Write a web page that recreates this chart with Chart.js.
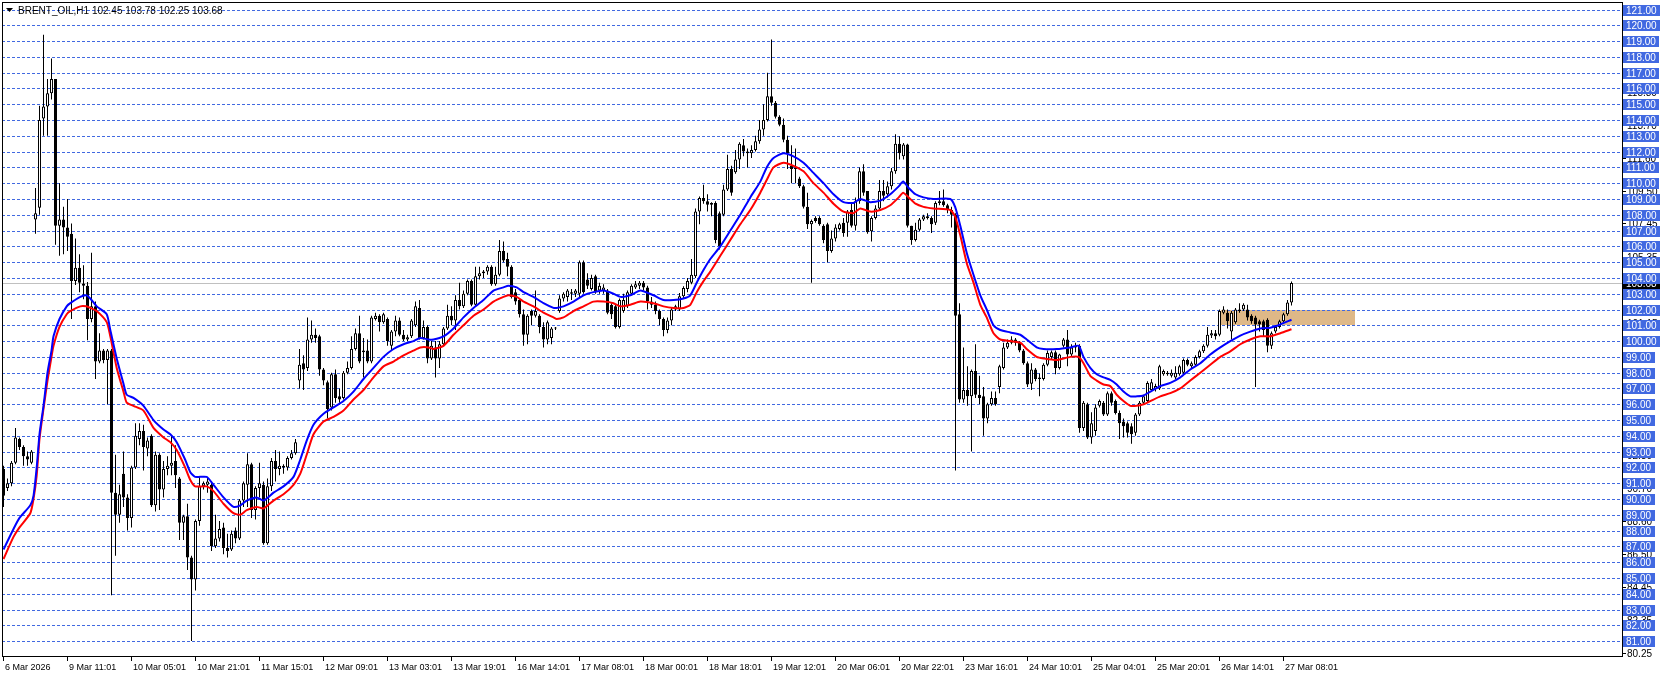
<!DOCTYPE html>
<html>
<head>
<meta charset="utf-8">
<title>BRENT_OIL,H1</title>
<script src="https://cdn.jsdelivr.net/npm/chart.js@4.4.1/dist/chart.umd.min.js"></script>
<style>
  html, body { margin: 0; padding: 0; background: #fff; }
  canvas { display: block; }
</style>
</head>
<body>
<canvas id="chart" width="1662" height="677"></canvas>
<script>
// H1 candles, index 0 = 6 Mar 2026
const opens = [
  91.9, 90.7, 91.0, 92.3, 93.8, 93.3, 92.7, 92.3, 107.7, 108.45,
  114.1, 114.85, 115.7, 116.6, 107.3, 107.7, 107.2, 106.8, 103.8, 104.65,
  103.65, 103.5, 101.4, 102.2, 98.7, 99.4, 98.8, 99.4, 90.4, 89.0,
  91.6, 90.1, 88.8, 92.0, 93.8, 94.3, 93.2, 94.0, 89.6, 92.8,
  90.6, 91.9, 92.1, 92.4, 91.3, 88.5, 88.9, 86.3, 84.9, 88.6,
  90.8, 90.9, 90.9, 87.0, 87.5, 88.2, 86.9, 86.8, 88.0, 87.5,
  89.9, 90.9, 92.2, 89.3, 90.7, 90.9, 87.2, 90.8, 92.4, 91.9,
  92.1, 92.0, 92.6, 92.9, 97.5, 98.6, 98.3, 100.1, 100.4, 100.3,
  98.2, 97.4, 95.8, 97.9, 96.5, 96.4, 98.0, 98.3, 99.5, 100.5,
  99.3, 99.4, 98.7, 101.4, 101.6, 101.2, 101.4, 99.7, 100.6, 101.3,
  100.4, 100.1, 100.3, 101.0, 102.1, 100.2, 100.9, 98.9, 99.6, 98.9,
  99.8, 100.8, 101.6, 101.3, 102.6, 102.2, 103.0, 103.8, 102.3, 104.1,
  104.3, 104.4, 104.7, 103.6, 104.2, 105.7, 105.2, 104.7, 103.1, 102.6,
  101.7, 100.4, 101.9, 101.6, 101.6, 100.9, 100.1, 100.2, 100.8, 101.9,
  102.7, 102.8, 103.1, 103.0, 103.0, 105.0, 103.9, 103.3, 104.1, 103.2,
  103.2, 103.2, 102.3, 102.2, 100.9, 101.9, 102.2, 103.0, 103.4, 103.5,
  103.7, 103.4, 102.5, 102.3, 101.9, 101.4, 100.7, 101.3, 102.0, 102.0,
  102.84, 103.3, 103.7, 104.1, 108.2, 109.06, 108.85, 108.64, 108.75, 108.1,
  108.0, 109.6, 110.9, 110.7, 111.5, 112.4, 112.0, 111.9, 112.1, 112.65,
  113.4, 114.0, 115.5, 115.1, 114.2, 113.7, 112.75, 111.1, 110.9, 110.3,
  109.8, 108.5, 107.4, 107.8, 107.8, 107.3, 107.4, 105.7, 106.5, 107.1,
  107.5, 107.5, 108.3, 107.3, 108.85, 110.75, 109.5, 106.95, 107.8, 108.4,
  109.5, 109.3, 109.8, 110.75, 112.5, 111.7, 112.45, 107.3, 106.4, 107.05,
  107.7, 107.9, 107.8, 107.5, 108.75, 108.85, 108.6, 108.3, 108.0, 101.7,
  96.3, 96.9, 96.5, 98.1, 96.6, 96.5, 95.1, 96.0, 96.4, 97.1,
  98.3, 99.6, 99.9, 100.1, 99.9, 99.4, 98.6, 97.3, 98.2, 97.7,
  97.6, 98.5, 99.0, 99.3, 98.3, 99.7, 100.1, 99.15, 99.6, 99.7,
  94.5, 96.0, 93.9, 94.3, 95.9, 96.1, 95.35, 96.7, 96.2, 95.45,
  94.9, 94.8, 94.6, 94.2, 95.35, 96.1, 96.2, 96.9, 96.95, 97.0,
  97.9, 97.9, 97.8, 97.7, 97.9, 98.0, 98.8, 98.4, 98.5, 99.0,
  99.35, 99.7, 100.35, 100.5, 100.4, 101.8, 101.8, 100.6, 101.2, 101.9,
  102.0, 102.0, 101.6, 101.5, 101.25, 101.25, 101.35, 99.7, 100.6, 100.9,
  101.25, 101.7, 102.45
]
const highs = [
  92.1, 91.3, 92.4, 94.5, 93.9, 93.4, 93.0, 93.1, 109.7, 114.9,
  119.4, 116.6, 117.9, 116.6, 110.0, 108.5, 109.0, 107.45, 106.5, 105.5,
  104.8, 103.75, 105.6, 102.5, 100.5, 99.5, 99.5, 99.5, 92.8, 90.9,
  93.0, 90.3, 92.1, 94.8, 94.8, 94.7, 93.9, 94.1, 93.0, 92.9,
  92.4, 92.7, 94.0, 93.4, 91.4, 89.0, 89.7, 86.4, 88.7, 91.4,
  91.1, 91.4, 91.1, 89.0, 88.6, 88.5, 87.8, 88.0, 88.2, 90.0,
  91.1, 92.9, 92.3, 90.8, 92.3, 91.1, 91.3, 92.6, 93.1, 93.0,
  92.2, 92.7, 93.1, 93.8, 99.5, 99.1, 101.5, 101.3, 100.8, 100.4,
  98.3, 97.5, 98.0, 98.2, 97.0, 98.1, 98.7, 100.3, 100.8, 101.6,
  100.2, 100.1, 101.6, 101.8, 101.7, 101.8, 101.5, 100.7, 101.6, 101.5,
  100.7, 100.4, 101.4, 102.5, 102.6, 101.3, 101.0, 100.0, 100.0, 100.0,
  100.9, 102.3, 102.2, 102.9, 103.7, 103.2, 103.9, 103.9, 104.7, 104.7,
  104.5, 104.8, 104.8, 104.7, 106.4, 106.3, 105.6, 104.8, 103.3, 102.7,
  102.0, 101.7, 102.0, 103.2, 101.7, 101.2, 101.3, 100.9, 100.9, 102.9,
  103.1, 103.3, 103.3, 103.3, 105.1, 105.1, 104.3, 104.2, 104.2, 103.7,
  103.6, 103.3, 102.4, 102.3, 102.7, 103.0, 103.2, 103.6, 103.8, 103.8,
  103.8, 103.5, 102.8, 102.5, 102.0, 101.5, 101.5, 102.1, 102.3, 103.05,
  103.47, 104.0, 105.2, 108.4, 109.16, 109.9, 109.3, 108.8, 108.85, 108.2,
  109.9, 111.8, 111.1, 112.1, 112.6, 112.8, 112.2, 112.4, 113.0, 114.0,
  115.0, 117.0, 119.1, 115.2, 114.3, 114.1, 113.0, 112.4, 112.2, 110.4,
  109.9, 109.4, 107.7, 107.9, 107.9, 107.4, 107.5, 107.0, 107.4, 107.5,
  107.8, 108.3, 108.7, 109.1, 111.0, 111.2, 109.5, 107.9, 108.6, 110.2,
  110.2, 110.1, 110.96, 113.1, 112.97, 112.55, 112.5, 107.3, 107.5, 107.8,
  108.0, 108.1, 107.9, 108.85, 109.5, 109.6, 108.7, 108.5, 108.1, 102.4,
  99.6, 98.4, 98.2, 99.8, 97.8, 97.1, 96.1, 96.8, 96.8, 98.5,
  99.9, 100.1, 100.3, 100.2, 100.0, 99.5, 98.7, 98.6, 98.3, 97.95,
  98.6, 99.4, 99.4, 99.4, 99.2, 100.2, 100.7, 99.8, 99.9, 99.8,
  96.2, 96.1, 95.5, 96.0, 96.3, 96.2, 96.8, 96.8, 96.3, 95.6,
  95.1, 94.9, 94.8, 95.45, 96.2, 96.6, 97.45, 97.6, 97.3, 98.5,
  98.2, 98.1, 98.2, 98.4, 98.5, 98.9, 98.9, 98.7, 99.1, 99.45,
  99.8, 100.9, 100.7, 100.7, 102.0, 102.2, 102.0, 101.9, 102.1, 102.4,
  102.4, 102.3, 101.7, 101.6, 101.35, 101.35, 101.45, 100.6, 101.0, 101.35,
  101.8, 102.6, 103.78
]
const lows = [
  89.5, 90.5, 90.8, 92.2, 93.1, 92.1, 92.1, 92.2, 106.8, 108.0,
  113.0, 113.0, 115.3, 106.1, 105.4, 105.5, 105.7, 101.4, 103.55, 103.1,
  102.65, 100.05, 101.2, 97.6, 98.6, 98.6, 96.0, 83.9, 86.4, 88.5,
  89.5, 88.0, 88.2, 91.9, 93.4, 91.8, 92.7, 89.5, 89.2, 89.3,
  90.1, 91.5, 91.5, 90.7, 87.4, 87.4, 85.5, 81.0, 84.2, 88.3,
  90.6, 90.4, 86.7, 86.9, 87.3, 86.5, 86.3, 86.7, 87.2, 87.4,
  89.5, 89.5, 88.8, 88.7, 90.1, 87.1, 87.1, 90.5, 91.1, 91.5,
  91.6, 91.8, 92.5, 92.8, 97.0, 96.9, 98.1, 99.9, 99.9, 97.8,
  97.2, 95.1, 95.6, 96.1, 96.1, 96.3, 97.9, 98.2, 99.4, 98.6,
  97.7, 98.6, 98.6, 101.3, 100.6, 101.1, 99.7, 99.4, 100.3, 100.3,
  100.0, 100.0, 100.2, 100.9, 100.1, 100.1, 98.6, 98.8, 97.7, 98.3,
  99.7, 100.7, 101.0, 100.7, 102.0, 102.1, 102.9, 102.2, 102.2, 103.9,
  104.0, 104.2, 103.5, 103.5, 104.1, 105.0, 104.1, 102.7, 102.3, 101.5,
  99.7, 99.8, 101.0, 101.5, 100.5, 99.6, 99.8, 99.8, 100.7, 101.8,
  102.5, 102.5, 102.6, 102.8, 102.8, 103.0, 103.3, 103.2, 103.0, 103.0,
  103.0, 101.7, 101.4, 100.8, 100.8, 101.8, 102.1, 102.9, 103.3, 103.3,
  103.2, 102.0, 102.1, 101.7, 101.0, 100.3, 100.5, 101.0, 101.9, 101.9,
  102.7, 103.1, 103.6, 104.0, 107.4, 108.7, 108.2, 107.9, 106.2, 105.8,
  107.9, 109.5, 109.2, 110.6, 110.9, 111.7, 111.0, 111.6, 112.0, 112.5,
  113.0, 113.9, 114.9, 114.1, 113.6, 112.6, 110.9, 110.0, 110.0, 109.7,
  108.4, 107.1, 103.7, 107.5, 107.3, 106.2, 105.0, 105.6, 106.3, 107.0,
  106.6, 106.6, 107.2, 107.0, 108.7, 109.2, 106.8, 106.3, 107.7, 108.3,
  108.85, 109.1, 109.6, 110.6, 111.5, 111.5, 107.2, 106.1, 106.3, 106.95,
  107.6, 107.7, 106.85, 107.35, 108.6, 108.5, 108.1, 107.2, 91.8, 96.1,
  96.1, 95.9, 93.0, 96.4, 96.0, 94.0, 94.8, 95.9, 95.9, 96.7,
  98.2, 99.5, 99.8, 99.7, 99.3, 98.5, 97.1, 96.9, 97.45, 96.5,
  97.5, 98.4, 98.8, 97.9, 98.2, 99.6, 98.4, 99.0, 99.3, 94.2,
  94.3, 93.8, 93.5, 94.0, 95.8, 95.25, 95.25, 95.9, 95.35, 93.8,
  93.9, 93.9, 93.5, 94.0, 95.25, 96.0, 96.1, 96.8, 96.8, 96.9,
  97.8, 97.8, 97.7, 97.6, 97.8, 97.9, 98.4, 98.3, 98.4, 98.9,
  99.25, 99.6, 100.2, 100.1, 100.3, 101.7, 100.8, 100.1, 101.1, 101.8,
  101.9, 101.3, 101.1, 97.1, 100.6, 100.3, 99.3, 99.5, 100.5, 100.8,
  101.2, 101.6, 102.25
]
const closes = [
  90.2, 91.0, 92.3, 93.9, 93.3, 92.7, 92.5, 93.0, 108.1, 114.0,
  114.85, 115.7, 116.6, 107.3, 107.7, 107.2, 106.6, 103.8, 104.65, 103.7,
  103.5, 101.4, 102.2, 98.7, 99.4, 98.8, 99.4, 90.4, 89.0, 90.3,
  90.1, 88.8, 92.0, 94.0, 94.3, 93.3, 93.7, 89.6, 92.8, 90.6,
  91.9, 92.1, 92.3, 91.5, 88.5, 88.9, 86.3, 84.9, 88.6, 90.8,
  91.0, 91.1, 87.0, 87.5, 88.1, 86.9, 86.7, 87.8, 87.5, 89.9,
  91.0, 92.2, 89.3, 90.7, 91.0, 87.2, 90.8, 92.4, 91.9, 92.1,
  92.0, 92.6, 92.9, 93.6, 98.5, 98.2, 100.1, 100.4, 100.2, 98.2,
  97.5, 95.7, 97.9, 96.4, 96.3, 98.0, 98.3, 99.5, 100.5, 98.7,
  99.4, 98.7, 101.5, 101.6, 101.2, 101.7, 100.0, 100.6, 101.3, 100.4,
  100.1, 100.25, 101.3, 102.2, 100.2, 100.9, 98.9, 99.7, 98.9, 99.8,
  100.8, 101.6, 101.3, 102.6, 102.2, 103.0, 103.8, 102.3, 104.1, 104.3,
  104.4, 104.7, 103.6, 104.2, 105.7, 105.1, 104.7, 102.8, 102.5, 101.7,
  100.4, 101.6, 101.6, 101.9, 100.9, 100.1, 101.2, 100.8, 100.85, 102.7,
  103.0, 103.2, 103.0, 103.2, 105.0, 103.1, 103.5, 104.0, 103.1, 103.5,
  103.4, 101.8, 101.7, 100.9, 102.6, 102.6, 103.1, 103.5, 103.6, 103.7,
  103.4, 102.5, 102.3, 101.9, 101.4, 100.7, 101.3, 102.0, 102.2, 102.84,
  103.37, 103.8, 104.2, 108.2, 109.06, 108.85, 108.64, 108.75, 106.4, 106.0,
  109.6, 110.9, 109.4, 111.5, 112.5, 112.0, 111.9, 112.1, 112.65, 113.4,
  114.0, 115.5, 115.1, 114.2, 113.7, 112.75, 111.9, 110.9, 111.0, 109.8,
  108.5, 107.4, 107.6, 107.6, 107.4, 106.4, 105.7, 106.5, 107.2, 107.4,
  106.85, 108.2, 107.3, 108.85, 110.75, 109.4, 106.9, 107.8, 108.4, 109.5,
  109.2, 109.8, 110.75, 112.5, 111.9, 112.45, 107.3, 106.4, 107.05, 107.7,
  107.9, 107.8, 107.4, 108.75, 108.85, 108.6, 108.3, 108.0, 101.6, 96.3,
  96.9, 96.5, 98.1, 96.6, 96.4, 95.1, 96.0, 96.4, 96.0, 98.4,
  99.6, 99.9, 100.1, 99.9, 99.4, 98.6, 97.25, 98.2, 97.6, 97.6,
  98.5, 99.25, 99.3, 98.3, 99.15, 100.1, 99.15, 99.6, 99.7, 94.5,
  96.1, 93.9, 94.8, 95.8, 96.2, 95.35, 96.7, 96.1, 95.45, 94.8,
  94.6, 94.2, 94.1, 95.35, 96.1, 96.5, 97.35, 97.4, 97.15, 98.4,
  98.1, 98.0, 98.0, 98.0, 98.4, 98.8, 98.5, 98.6, 99.0, 99.35,
  99.7, 100.4, 100.5, 100.3, 101.9, 102.0, 101.25, 101.8, 102.0, 102.0,
  102.3, 101.5, 101.25, 101.05, 101.05, 100.7, 99.7, 100.5, 100.9, 101.25,
  101.7, 102.45, 103.68
]

// two moving averages, sampled at candle index positions
const maPos = [
  0, 2.5, 4, 6.7, 7.5, 8.3, 9, 10, 11, 12, 12.5, 14, 15.8, 16.7, 19.2, 20.7, 21.7, 23.3, 25.8, 26.7,
  28.3, 30, 30.8, 32.5, 35, 37.5, 40, 41.7, 43.3, 45.4, 46.7, 47.9, 50.8, 52.5, 55, 57.5, 59.2, 60.8, 63.3, 65,
  67.5, 70, 72.5, 74.2, 75.8, 77.5, 80, 82.5, 85, 87.5, 90, 92.5, 95, 97.5, 100, 102.5, 104.2, 106.3, 107.5, 110,
  112.5, 115, 117.5, 120, 122.5, 125, 126.2, 128.3, 130, 132.5, 135, 137.5, 138.3, 140, 142.5, 145, 147.5, 150, 152.5, 154.2,
  156.7, 159.2, 162.5, 165, 167.5, 170, 171.7, 173.3, 175, 176.7, 179.2, 181.7, 184.2, 186.7, 189.2, 190.8, 192.5, 195, 197.5, 200,
  202.5, 205, 207.5, 210, 212.5, 214.2, 216.7, 219.2, 221.7, 223.8, 224.9, 226.3, 228, 230, 232.5, 236.7, 237.9, 239.2, 240.8, 242.5,
  244.2, 245.8, 247.5, 249.2, 251.7, 254.2, 255.8, 258.3, 260, 263.3, 266.7, 268.8, 270, 271.7, 273.3, 275, 276.7, 278.3, 280, 281.7,
  283.3, 285, 286.7, 289.2, 291.7, 294.2, 296.7, 299.2, 301.7, 304.2, 306.7, 309.2, 311.7, 314.2, 316.7, 319.2, 322
]
const maBlue = [
  86.8, 88.1, 88.8, 89.6, 90.2, 92.0, 94.1, 95.9, 98.0, 99.4, 100.3, 101.4, 102.2, 102.4, 102.8, 102.9, 102.7, 102.2, 101.7, 100.7,
  98.9, 97.3, 96.6, 96.4, 95.9, 95.0, 94.4, 94.1, 93.6, 92.5, 91.7, 91.4, 91.4, 90.9, 90.1, 89.5, 89.6, 89.9, 90.1, 89.9,
  90.4, 90.8, 91.4, 92.5, 93.7, 94.7, 95.4, 95.8, 96.2, 96.8, 97.6, 98.3, 99.0, 99.5, 99.8, 100.0, 100.2, 100.1, 100.1, 100.3,
  100.8, 101.5, 102.1, 102.6, 103.2, 103.4, 103.5, 103.4, 103.1, 102.8, 102.4, 102.1, 102.1, 102.2, 102.5, 102.9, 103.1, 103.2, 103.0, 102.8,
  102.9, 103.2, 102.9, 102.6, 102.6, 102.7, 102.9, 103.7, 104.5, 105.2, 106.0, 107.0, 108.0, 109.1, 110.1, 111.0, 111.6, 111.9, 111.7, 111.3,
  110.65, 110.0, 109.3, 108.8, 108.75, 109.0, 108.8, 108.9, 109.3, 109.8, 110.1, 109.7, 109.3, 109.1, 109.0, 109.0, 108.5, 107.3, 105.6, 104.2,
  102.9, 102.0, 101.0, 100.7, 100.55, 100.4, 100.1, 99.6, 99.5, 99.5, 99.6, 99.7, 99.0, 98.3, 97.9, 97.7, 97.55, 97.25, 96.8, 96.5,
  96.5, 96.55, 96.8, 97.15, 97.35, 97.7, 98.2, 98.6, 99.15, 99.6, 100.0, 100.35, 100.6, 100.8, 100.85, 101.05, 101.35
]
const maRed = [
  86.2, 87.6, 88.2, 89.1, 90.0, 91.5, 93.8, 95.7, 97.5, 99.0, 99.7, 100.9, 101.7, 101.9, 102.2, 102.2, 102.1, 101.9, 101.2, 100.3,
  98.3, 96.8, 96.1, 95.9, 95.6, 94.5, 93.9, 93.6, 93.1, 92.0, 91.2, 90.8, 90.8, 90.5, 89.7, 89.1, 89.0, 89.3, 89.5, 89.4,
  89.9, 90.3, 90.9, 91.6, 92.8, 94.1, 94.9, 95.2, 95.6, 96.3, 96.9, 97.7, 98.4, 98.7, 99.1, 99.4, 99.6, 99.6, 99.5, 99.7,
  100.4, 101.0, 101.6, 102.0, 102.5, 102.8, 102.9, 102.8, 102.5, 102.2, 101.8, 101.5, 101.4, 101.5, 101.9, 102.2, 102.5, 102.5, 102.4, 102.2,
  102.3, 102.5, 102.4, 102.2, 102.1, 102.1, 102.3, 103.1, 103.8, 104.4, 105.4, 106.4, 107.4, 108.3, 109.4, 110.2, 111.0, 111.3, 111.1, 110.75,
  110.0, 109.4, 108.7, 108.2, 108.1, 108.4, 108.2, 108.3, 108.6, 109.1, 109.4, 109.1, 108.7, 108.5, 108.4, 108.3, 107.9, 106.7, 104.95, 103.7,
  102.3, 101.5, 100.5, 100.1, 100.0, 99.9, 99.5, 99.0, 98.9, 98.8, 99.0, 99.0, 98.6, 97.8, 97.5, 97.25, 97.15, 96.6, 96.2, 95.9,
  95.9, 96.0, 96.2, 96.5, 96.7, 97.0, 97.5, 98.0, 98.5, 99.0, 99.35, 99.8, 100.1, 100.3, 100.3, 100.5, 100.75
]

// time axis labels, at candle index positions
const tickIndex = [0, 16, 32, 48, 64, 80, 96, 112, 128, 144, 160, 176, 192, 208, 224, 240, 256, 272, 288, 304, 320]
const tickText = [
  "6 Mar 2026", "9 Mar 11:01", "10 Mar 05:01", "10 Mar 21:01", "11 Mar 15:01", "12 Mar 09:01",
  "13 Mar 03:01", "13 Mar 19:01", "16 Mar 14:01", "17 Mar 08:01", "18 Mar 00:01", "18 Mar 18:01",
  "19 Mar 12:01", "20 Mar 06:01", "20 Mar 22:01", "23 Mar 16:01", "24 Mar 10:01", "25 Mar 04:01",
  "25 Mar 20:01", "26 Mar 14:01", "27 Mar 08:01"
]

// horizontal line objects every dollar, terminal's own price scale marks, bid
const levelPrices = [
  81, 82, 83, 84, 85, 86, 87, 88, 89, 90, 91, 92, 93, 94, 95, 96, 97, 98, 99, 100, 101,
  102, 103, 104, 105, 106, 107, 108, 109, 110, 111, 112, 113, 114, 115, 116, 117, 118, 119, 120, 121
]
const scalePrices = [
  80.25, 82.35, 84.45, 86.50, 88.60, 90.70, 92.80, 94.90, 96.95, 99.05,
  101.15, 103.25, 105.35, 107.45, 109.50, 111.60, 113.70, 115.80, 117.90
]
const bidPrice = 103.68
const titleText = "BRENT_OIL,H1 102.45 103.78 102.25 103.68"

// rectangle zone (candle index range, price range)
const zoneFrom = 304.4
const zoneTo = 337.9
const zoneTop = 102
const zoneBottom = 101

const FONT = '"Liberation Sans", Arial, sans-serif'
const LEVEL_BLUE = "#4169e1"

const terminalPlugin = {
  id: "terminal",
  beforeDatasetsDraw(chart) {
    const { ctx, chartArea: a, scales } = chart
    const x = scales.x
    const y = scales.y
    ctx.save()

    // zone
    const zx1 = Math.round(x.getPixelForValue(zoneFrom))
    const zx2 = Math.round(x.getPixelForValue(zoneTo))
    const zy1 = Math.round(y.getPixelForValue(zoneTop))
    const zy2 = Math.round(y.getPixelForValue(zoneBottom))
    ctx.fillStyle = "rgb(222,184,135)"
    ctx.fillRect(zx1, zy1, zx2 - zx1, zy2 - zy1)

    // dashed levels
    ctx.strokeStyle = LEVEL_BLUE
    ctx.lineWidth = 1
    ctx.setLineDash([3, 2])
    levelPrices.forEach((p) => {
      const py = Math.round(y.getPixelForValue(p)) + 0.5
      ctx.beginPath()
      ctx.moveTo(a.left, py)
      ctx.lineTo(a.right, py)
      ctx.stroke()
    })
    ctx.setLineDash([])

    // bid line
    const by = Math.round(y.getPixelForValue(bidPrice)) + 0.5
    ctx.strokeStyle = "#c0c0c0"
    ctx.beginPath()
    ctx.moveTo(a.left, by)
    ctx.lineTo(a.right, by)
    ctx.stroke()
    ctx.restore()
  },
  afterDatasetsDraw(chart) {
    const { ctx, chartArea: a, scales } = chart
    const x = scales.x
    const y = scales.y
    ctx.save()

    // frame
    ctx.strokeStyle = "#000"
    ctx.lineWidth = 1
    ctx.strokeRect(a.left + 0.5, a.top + 0.5, a.right - a.left, a.bottom - a.top)

    // price scale: terminal marks
    ctx.font = "10px " + FONT
    ctx.textBaseline = "middle"
    ctx.textAlign = "left"
    scalePrices.forEach((p) => {
      const py = Math.round(y.getPixelForValue(p))
      ctx.fillStyle = "#000"
      ctx.fillRect(a.right, py, 4, 1)
      ctx.fillText(p.toFixed(2), a.right + 5, py + 1)
    })

    // bid tag
    const by = Math.round(y.getPixelForValue(bidPrice))
    const bl = bidPrice.toFixed(2)
    ctx.fillStyle = "#000"
    ctx.fillRect(a.right + 1, by - 5, Math.ceil(ctx.measureText(bl).width) + 6, 11)
    ctx.fillStyle = "#fff"
    ctx.fillText(bl, a.right + 4, by + 1)

    // level tags
    levelPrices.forEach((p) => {
      const py = Math.round(y.getPixelForValue(p))
      const label = p.toFixed(2)
      const w = Math.ceil(ctx.measureText(label).width) + 6
      ctx.fillStyle = LEVEL_BLUE
      ctx.fillRect(a.right + 1, py - 5, w, 11)
      ctx.fillStyle = "#fff"
      ctx.fillText(label, a.right + 4, py + 1)
    })

    // time axis
    ctx.font = "9px " + FONT
    ctx.fillStyle = "#000"
    ctx.textBaseline = "alphabetic"
    tickIndex.forEach((idx, k) => {
      const px = Math.round(x.getPixelForValue(idx) - 0.5)
      ctx.fillRect(px, a.bottom, 1, 5)
      ctx.fillText(tickText[k], px + 2, a.bottom + 14)
    })

    // title
    ctx.beginPath()
    ctx.moveTo(6, 8)
    ctx.lineTo(13, 8)
    ctx.lineTo(9.5, 12)
    ctx.closePath()
    ctx.fill()
    ctx.font = "10px " + FONT
    ctx.fillText(titleText, 18, 14)
    ctx.restore()
  },
}

const idx = opens.map((_, i) => i)
const bodyColors = idx.map((i) => (closes[i] >= opens[i] ? "#ffffff" : "#000000"))

new Chart(document.getElementById("chart"), {
  type: "bar",
  data: {
    datasets: [
      {
        type: "line",
        label: "MA fast",
        data: maPos.map((p, k) => ({ x: p, y: maBlue[k] })),
        borderColor: "#0000ff",
        borderWidth: 2,
        pointRadius: 0,
        tension: 0.2,
        fill: false,
        order: 1,
      },
      {
        type: "line",
        label: "MA slow",
        data: maPos.map((p, k) => ({ x: p, y: maRed[k] })),
        borderColor: "#ff0000",
        borderWidth: 2,
        pointRadius: 0,
        tension: 0.2,
        fill: false,
        order: 2,
      },
      {
        label: "body",
        data: idx.map((i) => ({ x: i, y: [opens[i], closes[i]] })),
        backgroundColor: bodyColors,
        borderColor: "#000000",
        borderWidth: 1,
        borderSkipped: false,
        barThickness: 3,
        maxBarThickness: 3,
        minBarLength: 1,
        inflateAmount: 0,
        grouped: false,
        order: 3,
      },
      {
        label: "wick",
        data: idx.map((i) => ({ x: i, y: [lows[i], highs[i]] })),
        backgroundColor: "#000000",
        borderWidth: 0,
        barThickness: 1,
        maxBarThickness: 1,
        inflateAmount: 0,
        grouped: false,
        order: 4,
      },
    ],
  },
  options: {
    responsive: false,
    devicePixelRatio: 1,
    animation: false,
    events: [],
    layout: { padding: { left: 2, top: 2, right: 40, bottom: 21 } },
    plugins: { legend: { display: false }, tooltip: { enabled: false } },
    scales: {
      x: { type: "linear", min: -0.375, max: 404.625, offset: false, display: false },
      y: { type: "linear", min: 80.056, max: 121.475, display: false },
    },
  },
  plugins: [terminalPlugin],
})
</script>
</body>
</html>
